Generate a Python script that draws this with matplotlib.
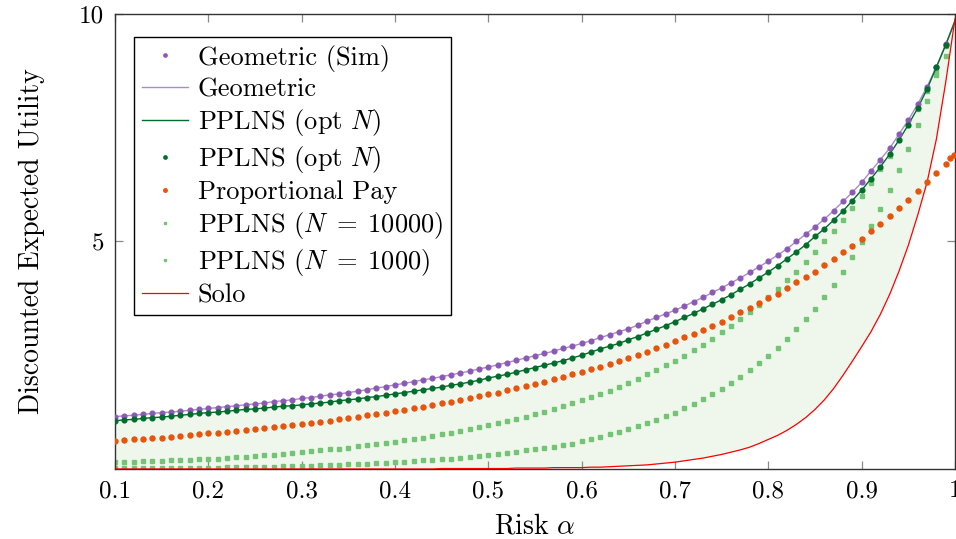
import numpy as np
import matplotlib
matplotlib.use("Agg")
import matplotlib.pyplot as plt

plt.rcParams["font.family"] = ["cmr10", "DejaVu Serif"]
plt.rcParams["mathtext.fontset"] = "cm"
plt.rcParams["axes.formatter.use_mathtext"] = True

# risk grid 0.10 .. 0.99 (simulation points), line values also at 1.0
alpha = np.arange(10, 100) / 100

geometric = [
    1.15, 1.17, 1.18, 1.20, 1.22, 1.24, 1.25, 1.27, 1.29, 1.31,
    1.33, 1.35, 1.37, 1.39, 1.41, 1.43, 1.45, 1.48, 1.50, 1.52,
    1.55, 1.57, 1.60, 1.63, 1.65, 1.68, 1.71, 1.74, 1.78, 1.81,
    1.85, 1.88, 1.92, 1.96, 1.99, 2.03, 2.07, 2.11, 2.15, 2.20,
    2.24, 2.29, 2.34, 2.39, 2.44, 2.49, 2.54, 2.59, 2.65, 2.70,
    2.76, 2.82, 2.89, 2.95, 3.02, 3.08, 3.16, 3.25, 3.33, 3.41,
    3.49, 3.58, 3.68, 3.77, 3.88, 3.98, 4.09, 4.20, 4.32, 4.44,
    4.57, 4.70, 4.84, 5.00, 5.16, 5.32, 5.49, 5.68, 5.88, 6.08,
    6.30, 6.55, 6.80, 7.05, 7.36, 7.67, 8.02, 8.40, 8.84, 9.33,
]
geometric_end = 9.86

pplns_opt = [
    1.06, 1.08, 1.09, 1.11, 1.13, 1.14, 1.16, 1.18, 1.20, 1.22,
    1.24, 1.25, 1.27, 1.29, 1.31, 1.32, 1.34, 1.36, 1.38, 1.39,
    1.41, 1.43, 1.45, 1.47, 1.50, 1.52, 1.54, 1.57, 1.59, 1.62,
    1.65, 1.68, 1.71, 1.74, 1.77, 1.80, 1.84, 1.87, 1.91, 1.95,
    2.00, 2.04, 2.08, 2.13, 2.18, 2.23, 2.28, 2.33, 2.38, 2.44,
    2.50, 2.57, 2.64, 2.70, 2.76, 2.84, 2.91, 2.99, 3.07, 3.15,
    3.24, 3.33, 3.42, 3.52, 3.62, 3.72, 3.83, 3.95, 4.07, 4.20,
    4.33, 4.47, 4.62, 4.77, 4.93, 5.11, 5.28, 5.47, 5.67, 5.90,
    6.13, 6.38, 6.64, 6.92, 7.23, 7.57, 7.93, 8.35, 8.83, 9.32,
]
pplns_opt_end = 9.85

proportional = [
    0.62, 0.63, 0.65, 0.66, 0.68, 0.69, 0.71, 0.73, 0.74, 0.76,
    0.78, 0.80, 0.82, 0.84, 0.86, 0.88, 0.90, 0.92, 0.94, 0.97,
    0.99, 1.01, 1.04, 1.06, 1.09, 1.12, 1.15, 1.18, 1.21, 1.24,
    1.27, 1.30, 1.33, 1.37, 1.40, 1.44, 1.48, 1.52, 1.56, 1.60,
    1.64, 1.68, 1.73, 1.77, 1.82, 1.87, 1.92, 1.97, 2.02, 2.08,
    2.13, 2.19, 2.25, 2.31, 2.37, 2.44, 2.51, 2.58, 2.65, 2.73,
    2.81, 2.89, 2.97, 3.05, 3.14, 3.24, 3.33, 3.44, 3.54, 3.64,
    3.75, 3.85, 3.98, 4.10, 4.22, 4.34, 4.48, 4.62, 4.76, 4.91,
    5.06, 5.22, 5.38, 5.55, 5.74, 5.91, 6.10, 6.30, 6.50, 6.71,
]
prop_tail_alpha = [0.995, 0.999]
prop_tail = [6.83, 6.91]

pplns_10000 = [
    0.15, 0.15, 0.16, 0.17, 0.17, 0.18, 0.19, 0.19, 0.20, 0.21,
    0.22, 0.23, 0.24, 0.26, 0.27, 0.28, 0.30, 0.31, 0.33, 0.35,
    0.37, 0.39, 0.41, 0.43, 0.45, 0.47, 0.50, 0.52, 0.55, 0.57,
    0.60, 0.63, 0.66, 0.69, 0.73, 0.76, 0.80, 0.84, 0.88, 0.92,
    0.96, 1.00, 1.05, 1.10, 1.15, 1.20, 1.26, 1.32, 1.38, 1.45,
    1.52, 1.58, 1.65, 1.72, 1.81, 1.89, 1.98, 2.08, 2.18, 2.28,
    2.38, 2.49, 2.62, 2.73, 2.86, 3.00, 3.14, 3.29, 3.45, 3.61,
    3.79, 3.96, 4.15, 4.34, 4.55, 4.77, 5.00, 5.23, 5.47, 5.73,
    6.00, 6.28, 6.59, 6.89, 7.22, 7.55, 7.91, 8.30, 8.75, 9.29,
]

pplns_1000 = [
    0.02, 0.02, 0.02, 0.02, 0.02, 0.02, 0.02, 0.03, 0.03, 0.03,
    0.03, 0.03, 0.04, 0.04, 0.04, 0.04, 0.05, 0.05, 0.06, 0.06,
    0.07, 0.07, 0.08, 0.09, 0.09, 0.10, 0.11, 0.12, 0.13, 0.14,
    0.15, 0.16, 0.17, 0.19, 0.20, 0.22, 0.23, 0.25, 0.27, 0.29,
    0.31, 0.33, 0.36, 0.38, 0.41, 0.43, 0.46, 0.49, 0.52, 0.56,
    0.61, 0.66, 0.71, 0.76, 0.82, 0.88, 0.94, 1.00, 1.08, 1.16,
    1.24, 1.33, 1.43, 1.53, 1.64, 1.76, 1.88, 2.02, 2.17, 2.32,
    2.49, 2.67, 2.86, 3.07, 3.29, 3.52, 3.78, 4.04, 4.34, 4.65,
    4.98, 5.33, 5.72, 6.13, 6.57, 7.04, 7.55, 8.08, 8.65, 9.08,
]

solo = [
    0.00, 0.00, 0.00, 0.00, 0.00, 0.00, 0.00, 0.00, 0.00, 0.00,
    0.00, 0.00, 0.00, 0.00, 0.00, 0.00, 0.00, 0.00, 0.00, 0.00,
    0.00, 0.00, 0.00, 0.00, 0.00, 0.00, 0.00, 0.00, 0.00, 0.00,
    0.00, 0.00, 0.00, 0.00, 0.00, 0.01, 0.01, 0.01, 0.01, 0.01,
    0.01, 0.01, 0.01, 0.02, 0.02, 0.02, 0.02, 0.03, 0.03, 0.03,
    0.03, 0.04, 0.04, 0.05, 0.06, 0.07, 0.08, 0.09, 0.11, 0.13,
    0.15, 0.18, 0.21, 0.24, 0.28, 0.32, 0.37, 0.42, 0.48, 0.56,
    0.65, 0.74, 0.85, 0.98, 1.13, 1.31, 1.52, 1.77, 2.06, 2.37,
    2.69, 3.02, 3.40, 3.84, 4.35, 4.92, 5.58, 6.30, 7.25, 8.50,
]
solo_end = 9.90

c_purple = "#8c5ab4"
c_purple_line = "#a98bcb"
c_dgreen = "#006d2c"
c_orange = "#e6550d"
c_lgreen = "#74c476"
c_red = "#ff0000"

line_alpha = np.append(alpha, 1.0)
geo_line = np.append(geometric, geometric_end)
opt_line = np.append(pplns_opt, pplns_opt_end)
solo_line = np.append(solo, solo_end)

fig = plt.figure(figsize=(9.56, 5.39), dpi=100)
ax = fig.add_axes([0.1203, 0.1299, 0.8787, 0.8441])

ax.fill_between(line_alpha, solo_line, opt_line, color="#eff7ec", lw=0, zorder=1)

ax.plot(alpha, geometric, ls="none", marker="o", ms=3.4, color=c_purple,
        label="Geometric (Sim)", zorder=4)
ax.plot(line_alpha, geo_line, color=c_purple_line, lw=1.0, label="Geometric", zorder=3)
ax.plot(line_alpha, opt_line, color=c_dgreen, lw=1.0, label=r"PPLNS (opt $N$)", zorder=3)
ax.plot(alpha, pplns_opt, ls="none", marker="o", ms=3.4, color=c_dgreen,
        label=r"PPLNS (opt $N$)", zorder=4)
ax.plot(np.append(alpha, prop_tail_alpha), np.append(proportional, prop_tail),
        ls="none", marker="o", ms=3.6, color=c_orange, label="Proportional Pay", zorder=4)
ax.plot(alpha, pplns_10000, ls="none", marker="s", ms=2.5, color=c_lgreen,
        label=r"PPLNS ($N \;=\; 10000$)", zorder=2)
ax.plot(alpha, pplns_1000, ls="none", marker="s", ms=2.5, color=c_lgreen,
        label=r"PPLNS ($N \;=\; 1000$)", zorder=2)
ax.plot(line_alpha, solo_line, color=c_red, lw=0.9, label="Solo", zorder=3)

ax.set_xlim(0.1, 1.0)
ax.set_ylim(0, 10)
ax.set_xticks([0.1, 0.2, 0.3, 0.4, 0.5, 0.6, 0.7, 0.8, 0.9, 1.0])
ax.set_xticklabels(["0.1", "0.2", "0.3", "0.4", "0.5", "0.6", "0.7", "0.8", "0.9", "1"])
ax.set_yticks([5, 10])
ax.set_yticklabels(["5", "10"])
ax.tick_params(direction="in", length=6, width=0.9, color="#8a8a8a",
               top=True, right=True, labelsize=18, pad=8)
for s in ax.spines.values():
    s.set_color("#333333")
    s.set_linewidth(1.0)

ax.set_xlabel(r"Risk $\alpha$", fontsize=20, labelpad=8)
ax.set_ylabel("Discounted Expected Utility", fontsize=20, labelpad=24)

leg = ax.legend(loc="upper left", bbox_to_anchor=(0.023, 0.95), fontsize=19,
                numpoints=1, markerscale=0.7, handlelength=1.75, handletextpad=0.35,
                labelspacing=0.22, borderpad=0.3, borderaxespad=0.0,
                fancybox=False, framealpha=1.0, edgecolor="black")
leg.get_frame().set_linewidth(1.0)

fig.savefig("out.png", dpi=100)
